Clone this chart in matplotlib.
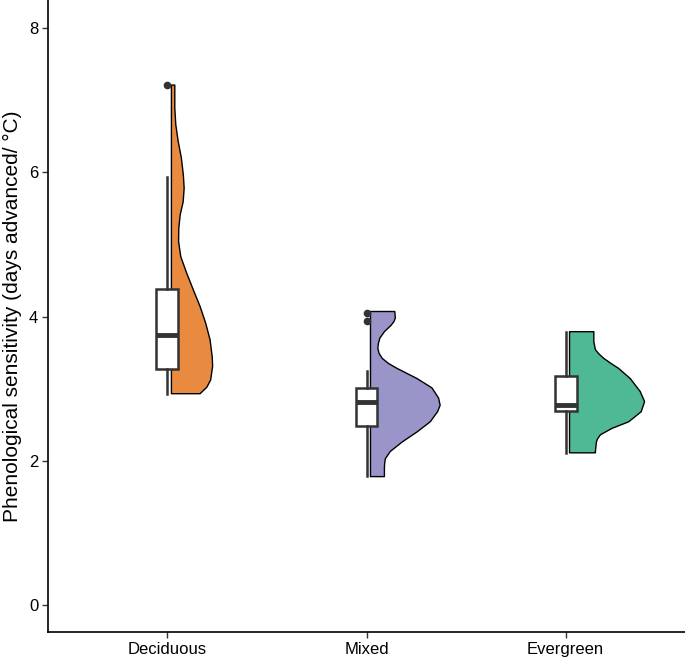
import matplotlib

matplotlib.use("Agg")
import matplotlib.pyplot as plt

plt.rcParams["font.family"] = ["Liberation Sans", "DejaVu Sans"]

# Forest types along the x axis
GROUPS = ["Deciduous", "Mixed", "Evergreen"]
COLORS = ["#E88A3F", "#9A95C9", "#4FB894"]

# Half-violin outlines: sensitivity values and the
# half-width of the density at each value (in x-axis units)
DEC_Y = [7.21, 6.89, 6.66, 6.43, 6.20, 5.96, 5.78, 5.59, 5.41, 5.22, 5.04,
         4.83, 4.60, 4.37, 4.14, 3.91, 3.68, 3.44, 3.31, 3.12, 3.02, 2.93]
DEC_W = [0.017, 0.017, 0.022, 0.034, 0.050, 0.060, 0.064, 0.059, 0.044, 0.037,
         0.036, 0.047, 0.077, 0.110, 0.144, 0.172, 0.194, 0.205, 0.207, 0.197,
         0.178, 0.144]

MIX_Y = [4.07, 3.98, 3.93, 3.88, 3.79, 3.70, 3.63, 3.56, 3.49, 3.42, 3.35,
         3.28, 3.14, 3.01, 2.87, 2.77, 2.68, 2.54, 2.40, 2.26, 2.13, 2.03,
         1.96, 1.90, 1.78]
MIX_W = [0.122, 0.125, 0.118, 0.104, 0.070, 0.047, 0.040, 0.037, 0.043, 0.059,
         0.090, 0.134, 0.234, 0.309, 0.342, 0.350, 0.337, 0.300, 0.234, 0.159,
         0.100, 0.075, 0.071, 0.070, 0.070]

EVG_Y = [3.79, 3.65, 3.54, 3.48, 3.42, 3.35, 3.28, 3.14, 2.96, 2.82, 2.68,
         2.54, 2.45, 2.36, 2.30, 2.26, 2.13, 2.11]
EVG_W = [0.122, 0.122, 0.130, 0.148, 0.172, 0.208, 0.247, 0.305, 0.355, 0.377,
         0.360, 0.297, 0.214, 0.155, 0.140, 0.135, 0.130, 0.130]

# Box summaries (whisker low, Q1, median, Q3, whisker high) and outliers
BOX_LO = [2.93, 1.79, 2.11]
BOX_Q1 = [3.27, 2.48, 2.69]
BOX_MED = [3.75, 2.81, 2.78]
BOX_Q3 = [4.38, 3.005, 3.176]
BOX_HI = [5.94, 3.245, 3.79]
OUTLIERS = [[7.21], [4.045, 3.94], []]

VIOLINS = [(DEC_Y, DEC_W), (MIX_Y, MIX_W), (EVG_Y, EVG_W)]
YTICKS = [0, 2, 4, 6, 8]
YLABEL = "Phenological sensitivity (days advanced/ \u00b0C)"


def main() -> None:
    fig = plt.figure(figsize=(6.85, 6.6), dpi=100)
    ax = fig.add_axes([48 / 685, 28 / 660, 1 - 48 / 685, 1 - 28 / 660])

    positions = range(1, len(GROUPS) + 1)
    offset = 0.02  # violins sit just right of the box centre

    for pos, (ys, ws), col in zip(positions, VIOLINS, COLORS):
        left = pos + offset
        xs = [left] + [left + w for w in ws] + [left]
        yy = [ys[0]] + list(ys) + [ys[-1]]
        ax.fill(xs, yy, facecolor=col, edgecolor="black", linewidth=1.0,
                joinstyle="round", zorder=2)

    stats = []
    for i, name in enumerate(GROUPS):
        stats.append({
            "label": name, "whislo": BOX_LO[i], "q1": BOX_Q1[i],
            "med": BOX_MED[i], "q3": BOX_Q3[i], "whishi": BOX_HI[i],
            "fliers": OUTLIERS[i],
        })
    dark = "#333333"
    ax.bxp(stats, positions=list(positions), widths=0.11, patch_artist=True,
           showcaps=False,
           boxprops=dict(facecolor="white", edgecolor=dark, linewidth=1.8),
           whiskerprops=dict(color=dark, linewidth=1.8),
           medianprops=dict(color=dark, linewidth=3.5),
           flierprops=dict(marker="o", markerfacecolor=dark,
                           markeredgecolor=dark, markersize=4.5),
           zorder=3)

    ax.set_xlim(0.4, 3.6)
    ax.set_ylim(-0.375, 8.39)
    ax.set_xticks(list(positions))
    ax.set_xticklabels(GROUPS, fontsize=12)
    ax.set_yticks(YTICKS)
    ax.set_yticklabels([str(t) for t in YTICKS], fontsize=12)
    ax.set_ylabel(YLABEL, fontsize=15, labelpad=5)

    for side in ("top", "right"):
        ax.spines[side].set_visible(False)
    for side in ("left", "bottom"):
        ax.spines[side].set_linewidth(1.2)
    ax.tick_params(axis="both", length=4, width=1.0, colors="#333333",
                   labelcolor="black", pad=3)

    fig.savefig("out.png", dpi=100)
    plt.close(fig)


if __name__ == "__main__":
    main()
